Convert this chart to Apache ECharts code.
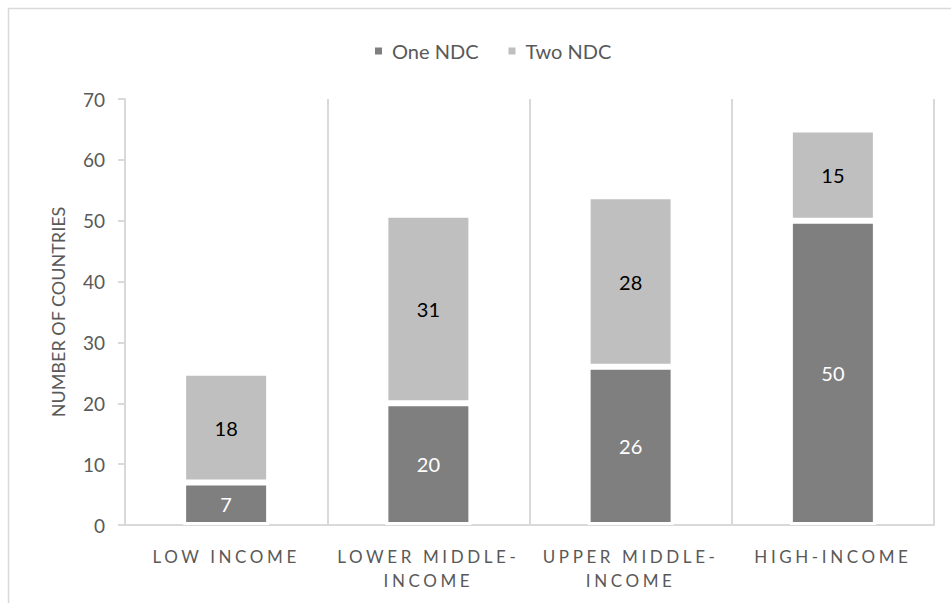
<!DOCTYPE html>
<html>
<head>
<meta charset="utf-8">
<script src="https://cdn.jsdelivr.net/npm/echarts@6/dist/echarts.min.js"></script>
<style>
  html, body { margin: 0; padding: 0; background: #fff; }
  #chart { width: 951px; height: 603px; }
  /* spaced capitals for the income-group labels */
  #chart text[style*="Arial"] { letter-spacing: 3.6px; }
</style>
</head>
<body>
<div id="chart"></div>
<script>
// Income groups on the category axis
const categories = ['LOW INCOME', 'LOWER MIDDLE-INCOME', 'UPPER MIDDLE-INCOME', 'HIGH-INCOME'];
// Countries that submitted one NDC / two NDCs
const oneNdc = [7, 20, 26, 50];
const twoNdc = [18, 31, 28, 15];
const seriesNames = ['One NDC', 'Two NDC'];
// Value axis ticks
const yMin = 0, yMax = 70, yStep = 10;

const chart = echarts.init(document.getElementById('chart'), null, { renderer: 'svg' });

const gridLine = '#d9d9d9';
const textGrey = '#595959';

chart.setOption({
  animation: false,
  textStyle: { fontFamily: 'Lato' },
  graphic: [{
    type: 'rect',
    shape: { x: 8.5, y: 8.5, width: 1200, height: 1200 },
    style: { fill: 'none', stroke: gridLine, lineWidth: 1.5 },
    silent: true
  }],
  legend: {
    top: 36,
    left: 368,
    itemWidth: 9,
    itemHeight: 9,
    itemGap: 28,
    icon: 'rect',
    textStyle: { fontFamily: 'Lato', fontSize: 20, color: textGrey, padding: [0, 0, 0, 4] },
    data: seriesNames
  },
  grid: { left: 125, right: 17, top: 99, bottom: 78 },
  xAxis: {
    type: 'category',
    data: categories,
    axisLine: { lineStyle: { color: gridLine, width: 2 } },
    axisTick: { show: false },
    splitLine: { show: true, lineStyle: { color: gridLine, width: 2 } },
    axisLabel: {
      interval: 0,
      margin: 19,
      fontFamily: 'Lato, Arial',
      fontSize: 17,
      lineHeight: 24,
      color: textGrey,
      formatter: v => v.replace('MIDDLE-', 'MIDDLE-\n')
    }
  },
  yAxis: {
    type: 'value',
    min: yMin,
    max: yMax,
    interval: yStep,
    name: 'NUMBER OF COUNTRIES',
    nameLocation: 'middle',
    nameGap: 58,
    nameTextStyle: { fontFamily: 'Lato', fontSize: 18, color: textGrey },
    axisLine: { show: true, lineStyle: { color: gridLine, width: 2 } },
    axisTick: { show: true, length: 7, lineStyle: { color: gridLine, width: 2 } },
    splitLine: { show: false },
    axisLabel: { margin: 20, fontSize: 19, color: textGrey, fontFamily: 'Lato' }
  },
  series: [
    {
      name: seriesNames[0],
      type: 'bar',
      stack: 'ndc',
      barWidth: 86,
      data: oneNdc,
      itemStyle: { color: '#7f7f7f', borderColor: '#ffffff', borderWidth: 3 },
      label: { show: true, position: 'inside', color: '#ffffff', fontSize: 20, fontFamily: 'Lato' }
    },
    {
      name: seriesNames[1],
      type: 'bar',
      stack: 'ndc',
      barWidth: 86,
      data: twoNdc,
      itemStyle: { color: '#bfbfbf', borderColor: '#ffffff', borderWidth: 3 },
      label: { show: true, position: 'inside', color: '#000000', fontSize: 20, fontFamily: 'Lato' }
    }
  ]
});
</script>
</body>
</html>
